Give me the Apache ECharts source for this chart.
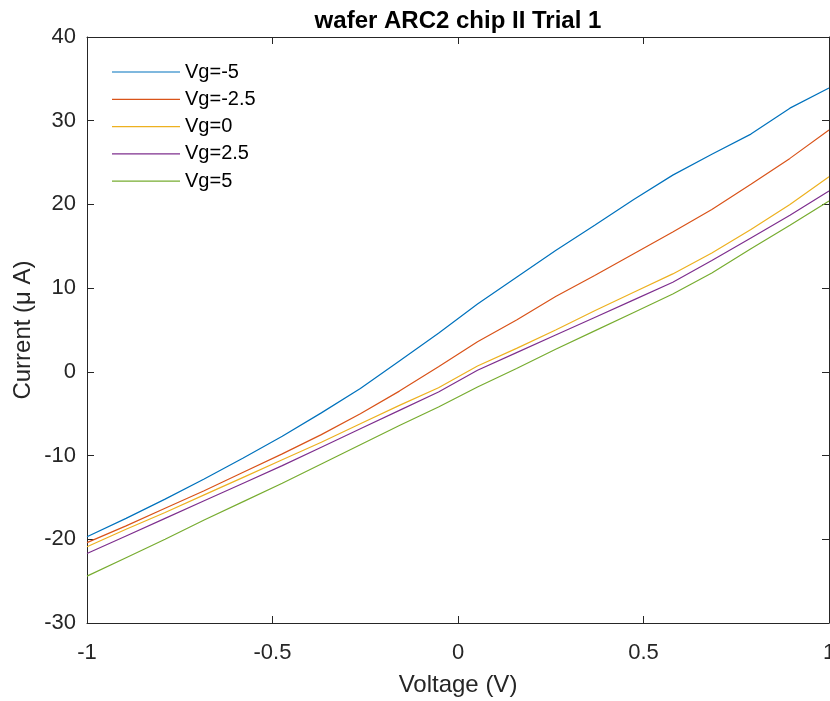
<!DOCTYPE html>
<html>
<head>
<meta charset="utf-8">
<script src="https://cdn.jsdelivr.net/npm/echarts@6/dist/echarts.min.js"></script>
<style>html,body{margin:0;padding:0;background:#fff;}#c{width:830px;height:701px;}</style>
</head>
<body>
<div id="c"></div>
<script>
// linspace(-1,1,20)
const voltage = [-1, -0.8947, -0.7895, -0.6842, -0.5789, -0.4737, -0.3684, -0.2632, -0.1579, -0.0526,
                 0.0526, 0.1579, 0.2632, 0.3684, 0.4737, 0.5789, 0.6842, 0.7895, 0.8947, 1];
const seriesNames = ['Vg=-5', 'Vg=-2.5', 'Vg=0', 'Vg=2.5', 'Vg=5'];
const vgM5  = [-19.7, -17.5, -15.2, -12.8, -10.3, -7.7, -4.9, -2.0, 1.3, 4.6, 8.1, 11.3, 14.5, 17.5, 20.6, 23.5, 26.0, 28.4, 31.5, 33.9];
const vgM25 = [-20.4, -18.4, -16.3, -14.2, -12.0, -9.8, -7.5, -5.0, -2.3, 0.6, 3.6, 6.2, 9.0, 11.5, 14.1, 16.7, 19.4, 22.4, 25.5, 28.9];
const vg0   = [-20.9, -18.8, -16.8, -14.7, -12.6, -10.5, -8.4, -6.2, -4.0, -1.9, 0.7, 2.8, 5.0, 7.3, 9.5, 11.7, 14.2, 17.0, 20.0, 23.3];
const vgP25 = [-21.7, -19.6, -17.5, -15.4, -13.3, -11.2, -9.0, -6.8, -4.6, -2.4, 0.2, 2.3, 4.4, 6.5, 8.6, 10.7, 13.3, 16.0, 18.7, 21.6];
const vgP5  = [-24.4, -22.2, -20.0, -17.7, -15.5, -13.3, -11.0, -8.7, -6.4, -4.2, -1.8, 0.4, 2.7, 4.9, 7.1, 9.3, 11.8, 14.7, 17.5, 20.4];
const allValues = [vgM5, vgM25, vg0, vgP25, vgP5];
const colors = ['#0072BD', '#D95319', '#EDB120', '#7E2F8E', '#77AC30'];

const axisColor = '#262626';
const font = 'Liberation Sans, Arial, Helvetica, sans-serif';

const chart = echarts.init(document.getElementById('c'), null, {renderer: 'canvas'});
const series = seriesNames.map((n, k) => ({
  name: n,
  type: 'line',
  xAxisIndex: 0,
  yAxisIndex: 0,
  data: voltage.map((x, i) => [x, allValues[k][i]]),
  showSymbol: false,
  symbol: 'none',
  lineStyle: {width: 1.2, color: colors[k]},
  itemStyle: {color: colors[k]},
  animation: false
}));

const commonTick = {show: true, inside: true, length: 7, lineStyle: {color: axisColor, width: 1}};
chart.setOption({
  animation: false,
  title: {
    text: 'wafer ARC2 chip II Trial 1',
    left: 453, top: 4, textAlign: 'center',
    textStyle: {fontFamily: font, fontSize: 24, fontWeight: 'bold', color: '#000'}
  },
  legend: {
    data: seriesNames,
    orient: 'vertical',
    left: 112, top: 62, padding: 0,
    itemWidth: 68, itemHeight: 14, itemGap: 7.3,
    icon: 'path://M0,0 L68,0 L68,1.2 L0,1.2 Z',
    symbolKeepAspect: true,
    textStyle: {fontFamily: font, fontSize: 20, color: '#000'}
  },
  grid: {left: 87, right: 1, top: 37, bottom: 78, containLabel: false, outerBoundsMode: 'none'},
  xAxis: [{
    type: 'value', min: -1, max: 1, interval: 0.5,
    name: 'Voltage (V)', nameLocation: 'middle', nameGap: 50,
    nameTextStyle: {fontFamily: font, fontSize: 24, color: axisColor},
    axisLine: {show: true, onZero: false, lineStyle: {color: axisColor, width: 1}},
    axisTick: commonTick,
    axisLabel: {fontFamily: font, fontSize: 22, color: axisColor, margin: 19},
    splitLine: {show: false}
  }, {
    type: 'value', min: -1, max: 1, interval: 0.5, position: 'top',
    axisLine: {show: true, onZero: false, lineStyle: {color: axisColor, width: 1}},
    axisTick: commonTick,
    axisLabel: {show: false},
    splitLine: {show: false}
  }],
  yAxis: [{
    type: 'value', min: -30, max: 40, interval: 10,
    name: 'Current (\u03bc A)', nameLocation: 'middle', nameGap: 52, nameMoveOverlap: false,
    nameTextStyle: {fontFamily: font, fontSize: 24, color: axisColor},
    axisLine: {show: true, onZero: false, lineStyle: {color: axisColor, width: 1}},
    axisTick: commonTick,
    axisLabel: {fontFamily: font, fontSize: 22, color: axisColor, margin: 11},
    splitLine: {show: false}
  }, {
    type: 'value', min: -30, max: 40, interval: 10, position: 'right',
    axisLine: {show: true, onZero: false, lineStyle: {color: axisColor, width: 1}},
    axisTick: commonTick,
    axisLabel: {show: false},
    splitLine: {show: false}
  }],
  series: series
});
</script>
</body>
</html>
